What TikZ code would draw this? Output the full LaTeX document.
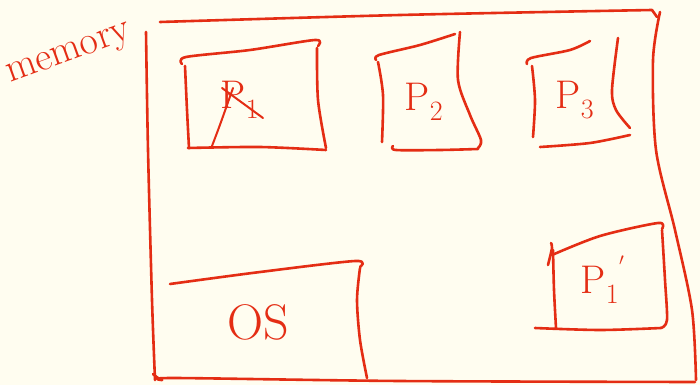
\documentclass[tikz,border=0pt]{standalone}
\usepackage{fontspec}
\usetikzlibrary{positioning}

\definecolor{paper}{RGB}{255,253,240}
\definecolor{ink}{RGB}{228,45,20}

\begin{document}
\begin{tikzpicture}[
  x=1pt,y=-1pt,
  every node/.style={text=ink,inner sep=0pt},
  pen/.style={draw=ink,line width=2.6pt,line cap=round,line join=round},
  proc/.style={font=\fontsize{40}{42}\selectfont},
  big/.style={font=\fontsize{50}{52}\selectfont}
]
  \fill[paper] (0,0) rectangle (700,385);
  \useasboundingbox (0,0) rectangle (700,385);

  % memory frame
  \draw[pen] plot[smooth] coordinates {(146,32) (148,150) (152,300) (155,380)};
  \draw[pen] plot[smooth] coordinates {(160,22) (400,15) (652,10)} -- (657,17);
  \draw[pen] plot[smooth] coordinates {(660,12) (653,60) (656,150) (675,230) (692,310) (696,380)};
  \draw[pen] plot[smooth] coordinates {(153,374) (162,380) (175,378) (400,381) (695,382)};
  \node[rotate=20,font=\fontsize{40}{42}\selectfont] (mem) at (70,56) {memory};

  % P1 (swapped out)
  \draw[pen] plot[smooth] coordinates {(182,64) (186,57) (250,50) (315,40) (318,46)};
  \draw[pen] plot[smooth] coordinates {(317,48) (318,100) (326,148)};
  \draw[pen] plot[smooth] coordinates {(188,148) (260,147) (326,150)};
  \draw[pen] plot[smooth] coordinates {(185,66) (187,110) (189,148)};
  \node[proc] (p1) at (240,100) {P\textsubscript{1}};
  \draw[pen,line width=2pt] (212,146) .. controls (220,125) .. (233,88);
  \draw[pen,line width=2pt] (222,88) -- (263,118);

  % P2
  \draw[pen] plot[smooth] coordinates {(376,60) (379,55) (420,45) (455,34)};
  \draw[pen] plot[smooth] coordinates {(460,32) (458,80) (470,115) (481,140) (478,148)};
  \draw[pen] plot[smooth] coordinates {(393,146) (396,150) (440,150) (478,149)};
  \draw[pen] plot[smooth] coordinates {(378,62) (383,95) (382,142)};
  \node[proc] (p2) at (424,102) {P\textsubscript{2}};

  % P3
  \draw[pen] plot[smooth] coordinates {(527,64) (531,58) (570,50) (590,41)};
  \draw[pen] plot[smooth] coordinates {(618,38) (612,90) (616,110) (630,128)};
  \draw[pen] plot[smooth] coordinates {(540,147) (590,143) (630,135)};
  \draw[pen] plot[smooth] coordinates {(532,66) (535,100) (533,137)};
  \node[proc] (p3) at (575,100) {P\textsubscript{3}};

  % P1 swapped back in
  \draw[pen] plot[smooth] coordinates {(548,265) (552,248) (551,243)};
  \draw[pen] plot[smooth] coordinates {(552,255) (600,236) (658,223) (662,229)};
  \draw[pen] plot[smooth] coordinates {(662,230) (665,280) (667,320) (661,328)};
  \draw[pen] plot[smooth] coordinates {(535,328) (600,330) (661,328)};
  \draw[pen] plot[smooth] coordinates {(553,250) (554,290) (556,328)};
  \node[proc] (p1new) at (600,280) {P\textsubscript{1}\rlap{\raisebox{1.1ex}{\fontsize{24}{26}\selectfont$'$}}};

  % operating system
  \draw[pen] plot[smooth] coordinates {(170,284) (260,272) (355,261) (360,267)};
  \draw[pen] plot[smooth] coordinates {(360,268) (357,300) (360,340) (367,378)};
  \node[big] (os) at (258,322) {OS};
\end{tikzpicture}
\end{document}
